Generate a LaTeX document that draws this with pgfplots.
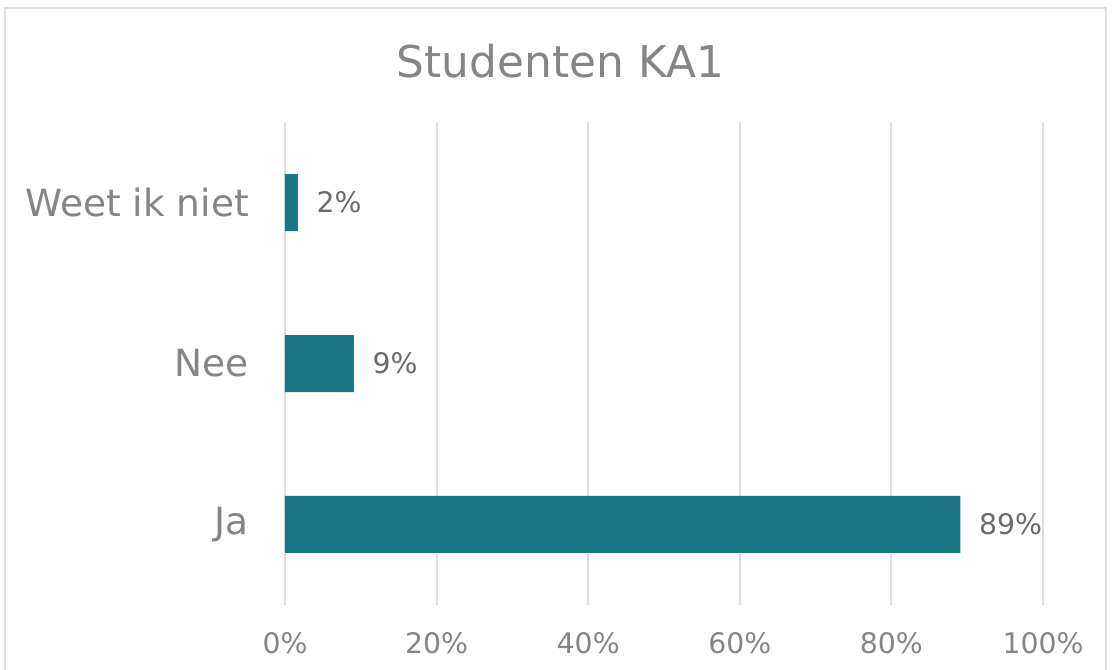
\documentclass[border=0pt]{standalone}
\usepackage{pgfplots}
\pgfplotsset{compat=1.18}
\usepackage{fontspec}
\setmainfont{DejaVu Sans}
\definecolor{barcol}{HTML}{1B7786}
\definecolor{txtgray}{HTML}{858585}
\definecolor{lblgray}{HTML}{6A6A6A}
\definecolor{gridgray}{HTML}{DEDEDE}
\begin{document}
\begin{tikzpicture}
\begin{scope}[x=0.6pt,y=0.6pt]
\useasboundingbox (0,0) rectangle (1113,670);
% chart frame (bottom edge lies below the cropped picture)
\draw[gridgray, line width=1.2pt] (5,-20) -- (5,662) -- (1106,662) -- (1106,-20);
\node[anchor=base, text=txtgray, font=\fontsize{26.3}{30}\selectfont, inner sep=0pt] at (560.5,592) {Studenten KA1};
\end{scope}
\begin{axis}[
    at={(171pt,39pt)}, anchor=south west,
    scale only axis,
    width=454.8pt, height=289.8pt,
    xbar, bar width=34.2pt,
    xmin=0, xmax=100,
    ymin=-0.5, ymax=2.5,
    xtick={0,20,40,60,80,100},
    xticklabels={0\%,20\%,40\%,60\%,80\%,100\%},
    ytick={0,1,2},
    yticklabels={Ja,Nee,Weet ik niet},
    axis line style={draw=none},
    major tick length=0pt,
    xmajorgrids, grid style={gridgray, line width=1.2pt},
    xticklabel style={text=txtgray, font=\fontsize{17}{20}\selectfont, inner sep=0pt, anchor=north, yshift=-16.5pt},
    yticklabel style={text=txtgray, font=\fontsize{22.5}{26}\selectfont, inner sep=0pt, anchor=east, xshift=-21.5pt},
    nodes near coords={\pgfmathprintnumber[fixed,precision=0,assume math mode=true]{\pgfplotspointmeta}\%},
    every node near coord/.append style={text=lblgray, font=\fontsize{17}{20}\selectfont, anchor=west, inner sep=0pt, xshift=11pt},
]
\addplot[fill=barcol, draw=none] coordinates {(89.1,0) (9.1,1) (1.7,2)};
\end{axis}
\end{tikzpicture}
\end{document}
